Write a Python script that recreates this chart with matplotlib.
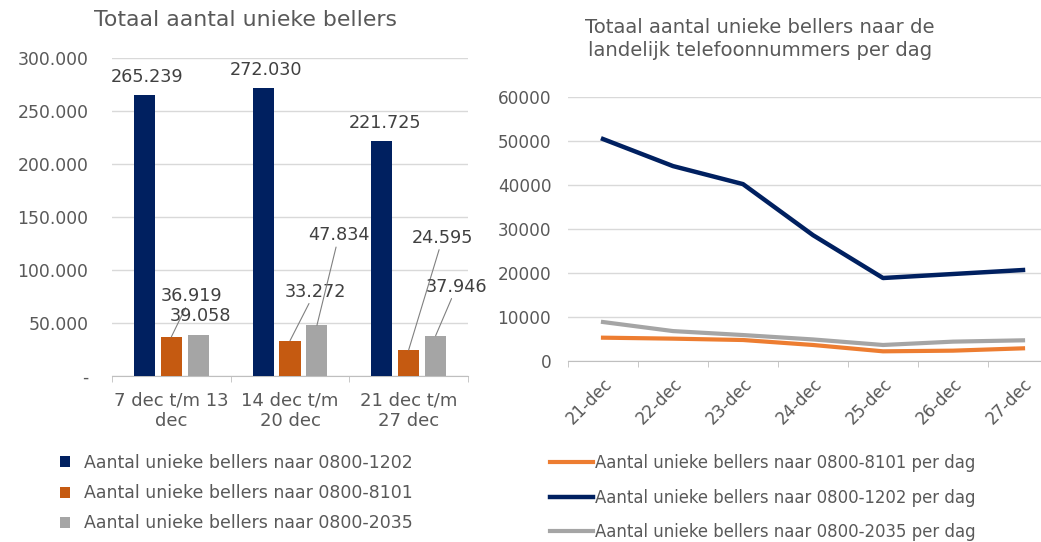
import matplotlib
matplotlib.use('Agg')
import matplotlib.pyplot as plt
import numpy as np

# Left chart: weekly unique callers
weeks = ['7 dec t/m 13\ndec', '14 dec t/m\n20 dec', '21 dec t/m\n27 dec']
bellers_1202 = [265239, 272030, 221725]
bellers_8101 = [36919, 33272, 24595]
bellers_2035 = [39058, 47834, 37946]

# Right chart: daily unique callers
days = ['21-dec', '22-dec', '23-dec', '24-dec', '25-dec', '26-dec', '27-dec']
dag_8101 = [5300, 5080, 4770, 3640, 2200, 2350, 2880]
dag_1202 = [50450, 44300, 40200, 28600, 18860, 19770, 20680]
dag_2035 = [8860, 6800, 5900, 4900, 3640, 4400, 4700]

NAVY = '#002060'
ORANGE_BAR = '#C55A11'
ORANGE_LINE = '#ED7D31'
GRAY = '#A5A5A5'
TXT = '#595959'
GRID = '#D9D9D9'

plt.rcParams['font.family'] = 'DejaVu Sans'

W, H = 1041, 542
fig = plt.figure(figsize=(W / 100, H / 100), dpi=100)


def dutch(v):
    return f'{v:,}'.replace(',', '.')


# ---------------- left bar chart ----------------
ax1 = fig.add_axes([112 / W, 1 - 376 / H, 356 / W, 318 / H])
x = np.arange(len(weeks))
off, bw = 0.227, 0.177
b1 = ax1.bar(x - off, bellers_1202, bw, color=NAVY, label='Aantal unieke bellers naar 0800-1202', zorder=3)
b2 = ax1.bar(x, bellers_8101, bw, color=ORANGE_BAR, label='Aantal unieke bellers naar 0800-8101', zorder=3)
b3 = ax1.bar(x + off, bellers_2035, bw, color=GRAY, label='Aantal unieke bellers naar 0800-2035', zorder=3)

ax1.set_xlim(-0.5, 2.5)
ax1.set_ylim(0, 300000)
ax1.set_yticks(np.arange(0, 300001, 50000))
ax1.set_yticklabels(['-' if v == 0 else dutch(v) for v in range(0, 300001, 50000)])
ax1.yaxis.grid(True, color=GRID, lw=1, zorder=0)
ax1.set_xticks(x)
ax1.set_xticklabels(weeks)
ax1.set_xticks(np.arange(-0.5, 2.6, 1), minor=True)
ax1.tick_params(axis='y', length=0, pad=17, labelsize=12.4, labelcolor=TXT)
ax1.tick_params(axis='x', which='major', length=0, pad=11, labelsize=13, labelcolor=TXT)
ax1.tick_params(axis='x', which='minor', length=4, color='#BFBFBF')
for s in ['top', 'right', 'left']:
    ax1.spines[s].set_visible(False)
ax1.spines['bottom'].set_color('#BFBFBF')

# navy labels straight above the bars
for xi, v in zip(x - off, bellers_1202):
    ax1.annotate(dutch(v), (xi, v), xytext=(3, 18), textcoords='offset pixels',
                 ha='center', va='center', fontsize=12.7, color='#404040')

# small bar labels with leader lines (pixel offsets)
label_offsets = {
    (0, 'o'): (20, 41, True), (0, 'g'): (2, 19, False),
    (1, 'o'): (25, 49, True), (1, 'g'): (22, 90, True),
    (2, 'o'): (34, 112, True), (2, 'g'): (21, 49, True),
}
for i in range(len(weeks)):
    for key, xi, v in [('o', x[i], bellers_8101[i]), ('g', x[i] + off, bellers_2035[i])]:
        dx, dy, leader = label_offsets[(i, key)]
        ap = dict(arrowstyle='-', color='#808080', lw=0.8, shrinkA=0, shrinkB=0) if leader else None
        ax1.annotate(dutch(v), (xi, v), xytext=(dx, dy), textcoords='offset pixels',
                     ha='center', va='center', fontsize=12.7, color='#404040',
                     arrowprops=ap, zorder=5)

fig.text(245 / W, 1 - 20 / H, 'Totaal aantal unieke bellers', ha='center', va='center',
         fontsize=15.8, color=TXT)

fig.legend(handles=[b1, b2, b3], loc='upper left', bbox_to_anchor=(60 / W, 1 - 454 / H),
           frameon=False, borderpad=0, borderaxespad=0, handlelength=0.6, handleheight=0.6,
           handletextpad=0.8, labelspacing=0.7, fontsize=12.5, labelcolor=TXT)

# ---------------- right line chart ----------------
ax2 = fig.add_axes([568 / W, 1 - 361 / H, 473 / W, 264 / H])
xd = np.arange(len(days))
l1, = ax2.plot(xd, dag_8101, color=ORANGE_LINE, lw=3, label='Aantal unieke bellers naar 0800-8101 per dag', zorder=3)
l2, = ax2.plot(xd, dag_1202, color=NAVY, lw=3.2, label='Aantal unieke bellers naar 0800-1202 per dag', zorder=4)
l3, = ax2.plot(xd, dag_2035, color=GRAY, lw=3, label='Aantal unieke bellers naar 0800-2035 per dag', zorder=2)

ax2.set_xlim(-0.5, 6.257)
ax2.set_ylim(0, 60000)
ax2.set_yticks(np.arange(0, 60001, 10000))
ax2.yaxis.grid(True, color=GRID, lw=1, zorder=0)
ax2.set_xticks(xd)
ax2.set_xticklabels(days, rotation=45, ha='right', rotation_mode='anchor')
ax2.set_xticks(np.arange(-0.5, 6.3, 1), minor=True)
ax2.tick_params(axis='y', length=0, pad=12, labelsize=12.2, labelcolor=TXT)
ax2.tick_params(axis='x', which='major', length=0, pad=10, labelsize=12, labelcolor=TXT)
ax2.tick_params(axis='x', which='minor', length=4, color='#BFBFBF')
for s in ['top', 'right', 'left']:
    ax2.spines[s].set_visible(False)
ax2.spines['bottom'].set_color('#BFBFBF')

fig.text(760 / W, 1 - 39 / H, 'Totaal aantal unieke bellers naar de\nlandelijk telefoonnummers per dag',
         ha='center', va='center', fontsize=14.1, color=TXT, linespacing=1.3)

fig.legend(handles=[l1, l2, l3], loc='upper left', bbox_to_anchor=(550 / W, 1 - 454 / H),
           frameon=False, borderpad=0, borderaxespad=0, handlelength=2.6,
           handletextpad=0.15, labelspacing=1.0, fontsize=11.9, labelcolor=TXT)

fig.savefig('out.png', dpi=100, facecolor='white')
